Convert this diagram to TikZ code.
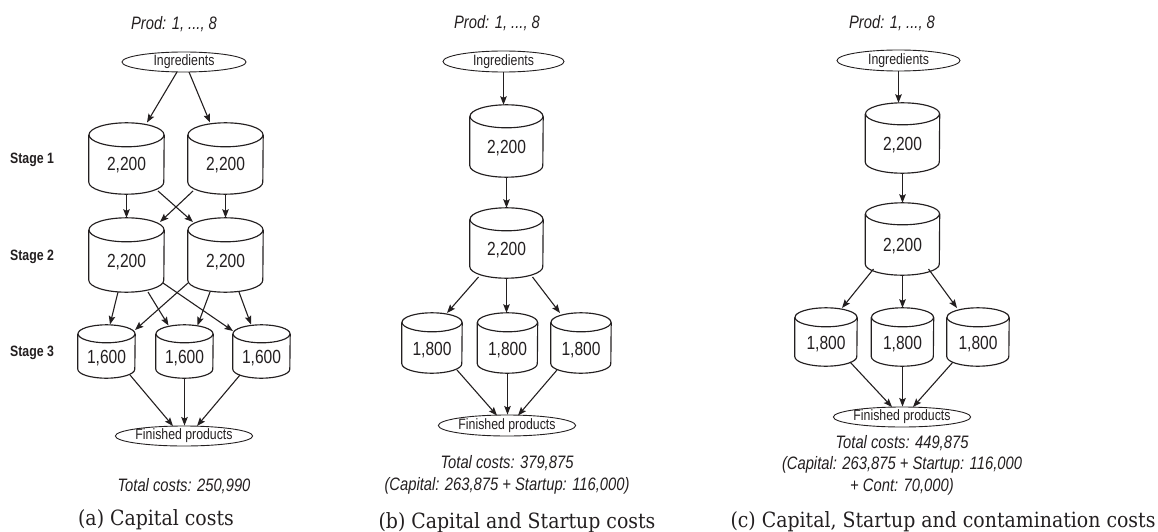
\documentclass[tikz,border=0pt]{standalone}
\usepackage{fontspec}
\setmainfont{Liberation Sans}
\newfontfamily\dgmfont{Liberation Sans}[FakeStretch=0.82]
\newfontfamily\capfont{DejaVu Serif}[FakeStretch=0.9]
\usetikzlibrary{arrows.meta,calc,shapes.geometric}

\definecolor{ink}{RGB}{35,31,32}

\tikzset{
  tankbox/.style={rectangle, inner sep=0pt, text height=24pt, text depth=0pt,
    font=\dgmfont\fontsize{19}{22}\selectfont, text=ink},
  tankline/.style={draw=ink, line width=1.15pt, line join=round},
  endpoint/.style={ellipse, draw=ink, line width=0.9pt, inner sep=0pt,
    font=\dgmfont\fontsize{15}{17}\selectfont, text=ink},
  flow/.style={draw=ink, line width=1.1pt,
    -{Stealth[length=8.5pt,width=6.5pt,inset=1.5pt]}},
  note/.style={font=\dgmfont\itshape\fontsize{18}{21.5}\selectfont, text=ink, align=center},
  stagelab/.style={font=\dgmfont\bfseries\fontsize{15}{17}\selectfont, text=ink},
  subcap/.style={font=\capfont\fontsize{21}{24}\selectfont, text=ink}
}

% tank: name, x, y, width, height, end-ellipse y radius, label
\newcommand\tank[7]{%
  \node[tankbox, minimum width=#4pt, minimum height=#5pt] (#1) at (#2,#3) {#7};
  \draw[tankline] ($(#1.north west)+(0,#6)$) -- ($(#1.south west)+(0,-#6)$)
    arc[start angle=180, end angle=360, x radius={0.5*#4pt}, y radius=#6pt]
    -- ($(#1.north east)+(0,#6)$);
  \draw[tankline] ($(#1.north)+(0,#6)$) ellipse[x radius={0.5*#4pt}, y radius=#6pt];
}

\begin{document}
\begin{tikzpicture}[x=1pt, y=-1pt]
\useasboundingbox (0,0) rectangle (1158,532);

% ---------- (a) capital costs ----------
\node[note] (proda) at (174,24) {Prod: 1, ..., 8};
\node[endpoint, minimum width=124pt, minimum height=20pt] (inga) at (184,62) {Ingredients};
\node[stagelab] (st1) at (32,160) {Stage 1};
\node[stagelab] (st2) at (32,257) {Stage 2};
\node[stagelab] (st3) at (32,353) {Stage 3};
\tank{a11}{126.5}{158.5}{75}{71}{12}{2,200}
\tank{a12}{225.5}{158.5}{75}{71}{12}{2,200}
\tank{a21}{126.5}{255}{75}{74}{12}{2,200}
\tank{a22}{225.5}{255}{75}{74}{12}{2,200}
\tank{a31}{106.5}{351.5}{57}{53}{9}{1,600}
\tank{a32}{184.5}{351.5}{57}{53}{9}{1,600}
\tank{a33}{261.5}{351.5}{57}{53}{9}{1,600}
\node[endpoint, minimum width=124pt, minimum height=20pt] (fina) at (184,436) {Finished products};
\node[note] (tota) at (184,486) {Total costs: 250,990};
\node[subcap] (capa) at (156,520) {(a) Capital costs};

\draw[flow] ($(inga)+(-7,10)$) -- ($(a11)+(20.5,-36)$);
\draw[flow] ($(inga)+(5,10)$) -- ($(a12)+(-15.5,-36)$);
\draw[flow] (a11.south) -- (a21.north);
\draw[flow] (a12.south) -- (a22.north);
\draw[flow] ($(a11)+(31.5,32.5)$) -- ($(a22)+(-32.5,-33)$);
\draw[flow] ($(a12)+(-32.5,32.5)$) -- ($(a21)+(33.5,-33)$);
\draw[flow] ($(a21)+(-8.5,37)$) -- ($(a31)+(3.5,-27)$);
\draw[flow] ($(a21)+(21.5,37)$) -- ($(a32)+(-16,-26)$);
\draw[flow] ($(a21)+(36.5,28)$) -- ($(a33)+(-28.5,-20.5)$);
\draw[flow] ($(a22)+(-37.5,28)$) -- ($(a31)+(28.5,-21.5)$);
\draw[flow] ($(a22)+(-15.5,37)$) -- ($(a32)+(13,-26)$);
\draw[flow] ($(a22)+(13.5,37)$) -- ($(a33)+(-10.5,-27)$);
\draw[flow] ($(a31)+(23.5,23.5)$) -- ($(fina)+(-11,-10)$);
\draw[flow] (a32.south) -- (a32.south |- fina.north);
\draw[flow] ($(a33)+(-21.5,23.5)$) -- ($(fina)+(13,-10)$);

% ---------- (b) capital and startup costs ----------
\node[note] (prodb) at (497,23) {Prod: 1, ..., 8};
\node[endpoint, minimum width=121pt, minimum height=21pt] (ingb) at (503.5,61.5) {Ingredients};
\tank{b1}{506.5}{141}{73}{72}{11.5}{2,200}
\tank{b2}{506.5}{243}{73}{70}{11.5}{2,200}
\tank{b31}{432}{343}{60}{60}{9.5}{1,800}
\tank{b32}{507.5}{343}{60}{60}{9.5}{1,800}
\tank{b33}{581}{343}{60}{60}{9.5}{1,800}
\node[endpoint, minimum width=118pt, minimum height=21pt] (finb) at (507,425.5) {Finished products};
\node[note] (totb) at (507,475) {Total costs: 379,875\\(Capital: 263,875 + Startup: 116,000)};
\node[subcap] (capb) at (517,523) {(b) Capital and Startup costs};

\draw[flow] (ingb.south) -- (ingb.south |- b1.north);
\draw[flow] (b1.south) -- (b1.south |- b2.north);
\draw[flow] ($(b2)+(-28,34)$) -- ($(b31)+(15,-30)$);
\draw[flow] (b2.south) -- (b2.south |- b32.north);
\draw[flow] ($(b2)+(26,34)$) -- ($(b33)+(-21,-30)$);
\draw[flow] ($(b31)+(25,27)$) -- ($(finb)+(-10,-10)$);
\draw[flow] (b32.south) -- (b32.south |- finb.north);
\draw[flow] ($(b33)+(-24,27)$) -- ($(finb)+(11,-10)$);

% ---------- (c) capital, startup and contamination costs ----------
\node[note] (prodc) at (892,23) {Prod: 1, ..., 8};
\node[endpoint, minimum width=123pt, minimum height=21pt] (ingc) at (898.5,60.5) {Ingredients};
\tank{c1}{902.5}{138}{74}{70}{11}{2,200}
\tank{c2}{902.5}{239}{74}{72}{11}{2,200}
\tank{c31}{826}{337}{62}{58}{9.5}{1,800}
\tank{c32}{902.5}{337}{62}{58}{9.5}{1,800}
\tank{c33}{978}{337}{62}{58}{9.5}{1,800}
\node[endpoint, minimum width=120pt, minimum height=20pt] (finc) at (902,417) {Finished products};
\node[note] (totc) at (902,465) {Total costs: 449,875\\(Capital: 263,875 + Startup: 116,000\\+ Cont: 70,000)};
\node[subcap] (capc) at (943,522) {(c) Capital, Startup and contamination costs};

\draw[flow] (ingc.south) -- (ingc.south |- c1.north);
\draw[flow] (c1.south) -- (c1.south |- c2.north);
\draw[flow] ($(c2)+(-29,30)$) -- ($(c31)+(16,-29)$);
\draw[flow] (c2.south) -- (c2.south |- c32.north);
\draw[flow] ($(c2)+(26,30)$) -- ($(c33)+(-21,-29)$);
\draw[flow] ($(c31)+(24,25)$) -- ($(finc)+(-10,-10)$);
\draw[flow] (c32.south) -- (c32.south |- finc.north);
\draw[flow] ($(c33)+(-25,25)$) -- ($(finc)+(11,-10)$);
\end{tikzpicture}
\end{document}
